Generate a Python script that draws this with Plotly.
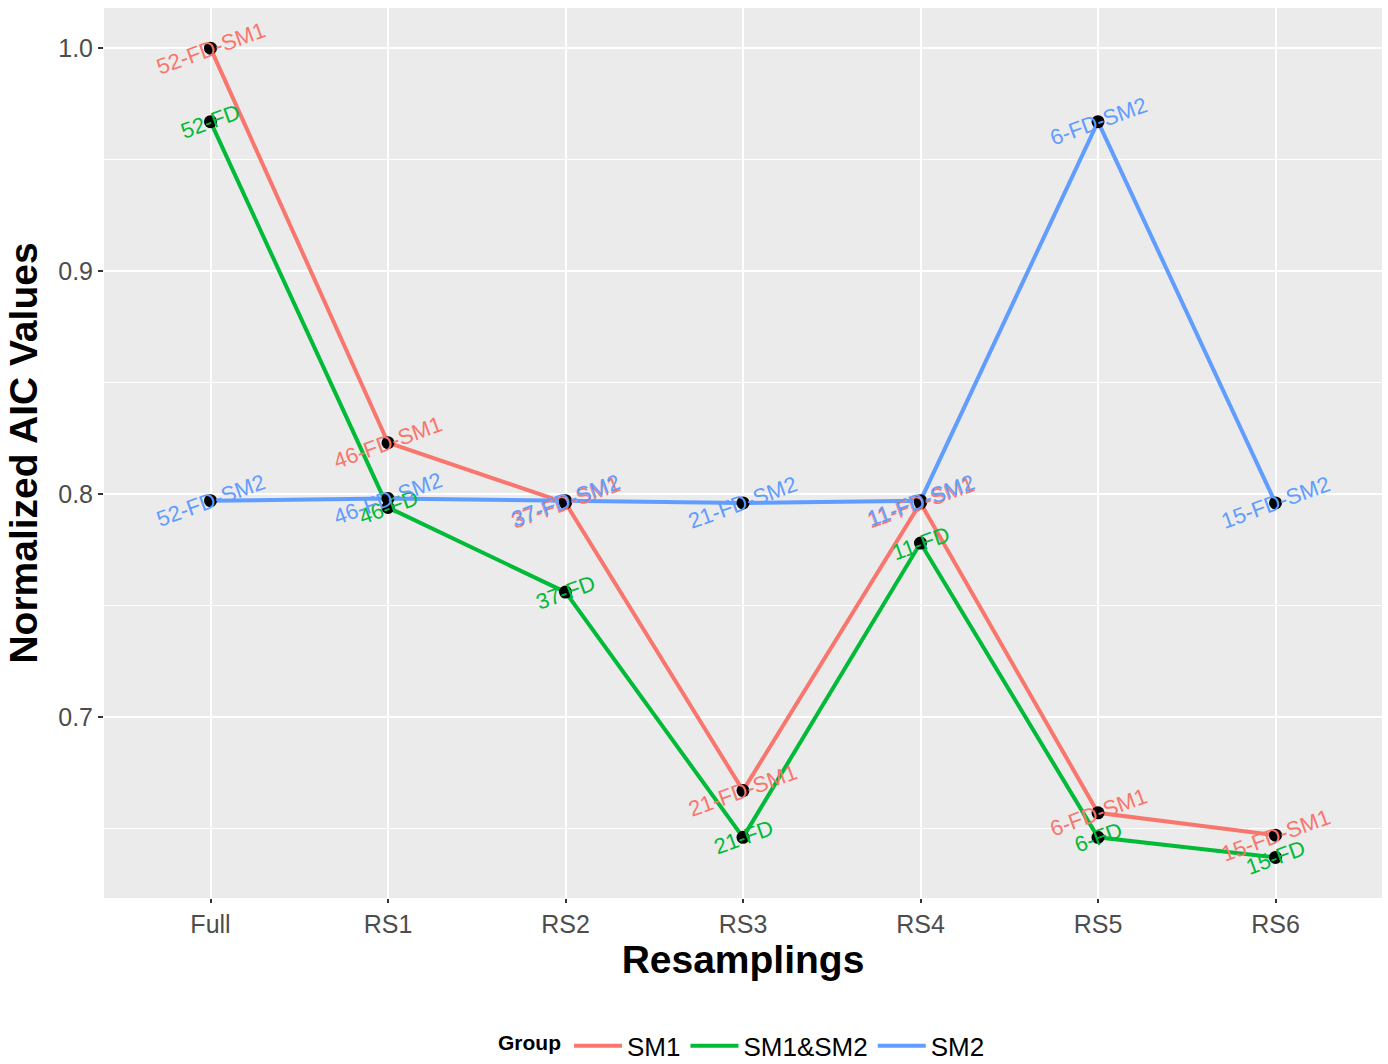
import plotly.graph_objects as go

# Resampling schemes on the x axis
resamplings = ["Full", "RS1", "RS2", "RS3", "RS4", "RS5", "RS6"]

# Normalized AIC values per model group
sm1_values = [1.000, 0.823, 0.796, 0.667, 0.796, 0.657, 0.647]
sm1sm2_values = [0.967, 0.794, 0.756, 0.646, 0.778, 0.646, 0.637]
sm2_values = [0.797, 0.798, 0.797, 0.796, 0.797, 0.967, 0.796]

# Point labels (number of features + model)
sm1_labels = ["52-FD-SM1", "46-FD-SM1", "37-FD-SM1", "21-FD-SM1", "11-FD-SM1", "6-FD-SM1", "15-FD-SM1"]
sm1sm2_labels = ["52-FD", "46-FD", "37-FD", "21-FD", "11-FD", "6-FD", "15-FD"]
sm2_labels = ["52-FD-SM2", "46-FD-SM2", "37-FD-SM2", "21-FD-SM2", "11-FD-SM2", "6-FD-SM2", "15-FD-SM2"]

groups = [
    ("SM1", sm1_values, sm1_labels, "#F8766D"),
    ("SM1&SM2", sm1sm2_values, sm1sm2_labels, "#00BA38"),
    ("SM2", sm2_values, sm2_labels, "#619CFF"),
]

FONT = "Liberation Sans, Arial, sans-serif"

fig = go.Figure()

# Lines per group
for name, vals, _, color in groups:
    fig.add_trace(go.Scatter(
        x=resamplings, y=vals, mode="lines", name=name,
        line=dict(color=color, width=4),
    ))

# Black points on top of all lines
for name, vals, _, _ in groups:
    fig.add_trace(go.Scatter(
        x=resamplings, y=vals, mode="markers", showlegend=False,
        marker=dict(color="black", size=13), hoverinfo="skip",
    ))

# Rotated text labels centred on each point
annotations = []
for name, vals, labels, color in groups:
    for xc, yv, lab in zip(resamplings, vals, labels):
        annotations.append(dict(
            x=xc, y=yv, xref="x", yref="y", text=lab, showarrow=False,
            textangle=-20, xanchor="center", yanchor="middle",
            font=dict(family=FONT, size=22, color=color),
        ))

fig.update_layout(
    width=1388, height=1064,
    margin=dict(l=104, r=6, t=8, b=166),
    paper_bgcolor="white",
    plot_bgcolor="#EBEBEB",
    font=dict(family=FONT, color="black"),
    annotations=annotations,
    showlegend=True,
    legend=dict(
        orientation="h", x=0.5, xanchor="center",
        yref="container", y=0.017, yanchor="middle",
        title=dict(text="<b>Group</b>", font=dict(size=21, family=FONT, color="black")),
        font=dict(size=26, family=FONT, color="black"),
        itemwidth=48,
    ),
)

fig.update_xaxes(
    type="category", categoryorder="array", categoryarray=resamplings,
    range=[-0.6, 6.6],
    showgrid=True, gridcolor="white", gridwidth=2,
    zeroline=False, showline=False,
    ticks="outside", ticklen=4, tickwidth=1.5, tickcolor="#333333",
    tickfont=dict(size=25, color="#4D4D4D", family=FONT),
    title=dict(text="<b>Resamplings</b>", font=dict(size=39, family=FONT, color="black"), standoff=8),
)

fig.update_yaxes(
    range=[0.6188, 1.018],
    tickvals=[0.7, 0.8, 0.9, 1.0], ticktext=["0.7", "0.8", "0.9", "1.0"],
    showgrid=True, gridcolor="white", gridwidth=2,
    minor=dict(tickvals=[0.65, 0.75, 0.85, 0.95], showgrid=True, gridcolor="white", gridwidth=1, ticks=""),
    zeroline=False, showline=False,
    ticks="outside", ticklen=5, tickwidth=1.5, tickcolor="#333333",
    tickfont=dict(size=25, color="#4D4D4D", family=FONT),
    title=dict(text="<b>Normalized AIC Values</b>", font=dict(size=39, family=FONT, color="black"), standoff=8),
)

fig.write_html("out.html")
